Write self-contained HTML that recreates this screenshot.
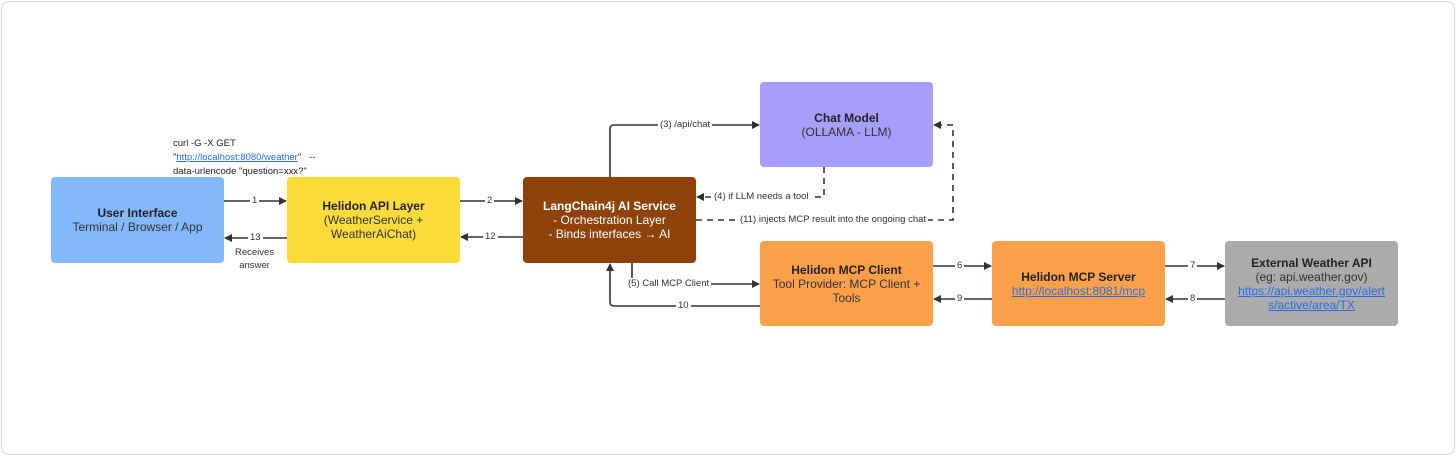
<!DOCTYPE html>
<html><head><meta charset="utf-8"><style>
body{margin:0;background:#fff;font-family:"Liberation Sans",sans-serif}
.wrap{position:relative;width:1456px;height:456px;overflow:hidden}
.frame{position:absolute;left:1px;top:1px;width:1452px;height:452px;border:1px solid #ddd;border-radius:8px}
.box{position:absolute;width:173px;border-radius:4px;display:flex;flex-direction:column;justify-content:center;align-items:center;text-align:center;font-size:12px;line-height:14px;color:#333}
.box b{color:#222}
.lbl{position:absolute;font-size:9.5px;color:#333;background:#fff;padding:0 2px;white-space:nowrap}
a{color:#2a6ce8}
</style></head><body><div class="wrap"><div class="frame"></div>
<svg width="1456" height="456" style="position:absolute;left:0;top:0">
<defs><marker id="a" markerWidth="8" markerHeight="8" refX="7" refY="4" orient="auto" markerUnits="userSpaceOnUse"><path d="M0,0 L8,4 L0,8 z" fill="#333"/></marker></defs>
<g stroke="#333" stroke-width="1.6" fill="none">
<path d="M224,201H286" marker-end="url(#a)"/>
<path d="M287,238H225" marker-end="url(#a)"/>
<path d="M460,201H522" marker-end="url(#a)"/>
<path d="M523,237H461" marker-end="url(#a)"/>
<path d="M610,177V129Q610,125 614,125H759" marker-end="url(#a)"/>
<path d="M824,167V197H697" stroke-dasharray="6,5" marker-end="url(#a)"/>
<path d="M696,220H953V125H934" stroke-dasharray="6,5" marker-end="url(#a)"/>
<path d="M632,263V280Q632,284 636,284H759" marker-end="url(#a)"/>
<path d="M760,306H614Q610,306 610,302V264" marker-end="url(#a)"/>
<path d="M933,266H991" marker-end="url(#a)"/>
<path d="M992,299H934" marker-end="url(#a)"/>
<path d="M1165,266H1224" marker-end="url(#a)"/>
<path d="M1225,299H1166" marker-end="url(#a)"/>
</g></svg>
<div style="position:absolute;left:173px;top:137px;font-size:9.5px;line-height:14px;color:#222">curl -G -X GET<br>"<a href="#">http://localhost:8080/weather</a>" &nbsp; --<br>data-urlencode "question=xxx?"</div>
<div class="box" style="left:51px;top:177px;height:86px;background:#84b8fd"><b>User Interface</b>Terminal / Browser / App</div>
<div class="box" style="left:287px;top:177px;height:86px;background:#fddc3a"><b>Helidon API Layer</b>(WeatherService +<br>WeatherAiChat)</div>
<div class="box" style="left:523px;top:177px;height:86px;background:#8f4209;color:#fff"><b style="color:#fff">LangChain4j AI Service</b>- Orchestration Layer<br>- Binds interfaces → AI</div>
<div class="box" style="left:760px;top:82px;height:85px;background:#a99dfb"><b>Chat Model</b>(OLLAMA - LLM)</div>
<div class="box" style="left:760px;top:241px;height:85px;background:#fda04a"><b>Helidon MCP Client</b>Tool Provider: MCP Client +<br>Tools</div>
<div class="box" style="left:992px;top:241px;height:85px;background:#fda04a"><b>Helidon MCP Server</b><a href="#">http://localhost:8081/mcp</a></div>
<div class="box" style="left:1225px;top:241px;height:85px;background:#ababab"><b>External Weather API</b>(eg: api.weather.gov)<br><a href="#">https://api.weather.gov/alert<br>s/active/area/TX</a></div>
<div class="lbl" style="left:250px;top:195px">1</div>
<div class="lbl" style="left:248px;top:232px">13</div>
<div class="lbl" style="left:233px;top:246px;text-align:center;line-height:13px">Receives<br>answer</div>
<div class="lbl" style="left:485px;top:195px">2</div>
<div class="lbl" style="left:483px;top:231px">12</div>
<div class="lbl" style="left:658px;top:119px">(3) /api/chat</div>
<div class="lbl" style="left:712px;top:191px">(4) if LLM needs a tool</div>
<div class="lbl" style="left:738px;top:214px">(11) injects MCP result into the ongoing chat</div>
<div class="lbl" style="left:626px;top:278px">(5) Call MCP Client</div>
<div class="lbl" style="left:676px;top:300px">10</div>
<div class="lbl" style="left:955px;top:260px">6</div>
<div class="lbl" style="left:955px;top:293px">9</div>
<div class="lbl" style="left:1188px;top:260px">7</div>
<div class="lbl" style="left:1188px;top:293px">8</div>
</div></body></html>
